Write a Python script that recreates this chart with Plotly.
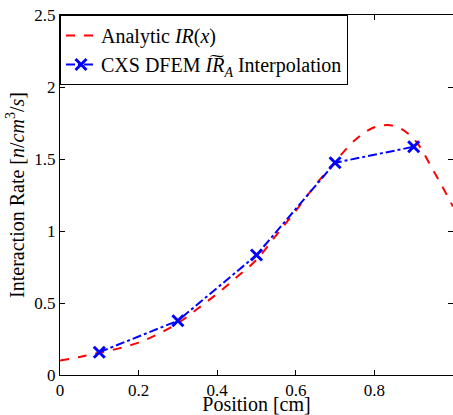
import plotly.graph_objects as go

# Analytic curve IR(x)
x_analytic = [0, 0.05, 0.1, 0.15, 0.2, 0.25, 0.3, 0.35, 0.4, 0.45, 0.5,
              0.55, 0.6, 0.65, 0.7, 0.75, 0.8, 0.85, 0.9, 0.95, 1.0]
y_analytic = [0.10, 0.125, 0.155, 0.185, 0.225, 0.285, 0.36, 0.46, 0.565, 0.68, 0.80,
              0.97, 1.14, 1.32, 1.48, 1.63, 1.72, 1.73, 1.64, 1.42, 1.17]

# CXS DFEM interpolation points
x_dfem = [0.1, 0.3, 0.5, 0.7, 0.9]
y_dfem = [0.158, 0.377, 0.833, 1.474, 1.585]

x_ticks = [0, 0.2, 0.4, 0.6, 0.8, 1]
y_ticks = [0, 0.5, 1, 1.5, 2, 2.5]

FONT = "Liberation Serif"
FS_TICK = 17
FS_LABEL = 20

fig = go.Figure()
fig.add_trace(go.Scatter(
    x=x_analytic, y=y_analytic, mode="lines",
    line=dict(color="#ff0000", width=2, dash="dash", shape="spline"),
    name="Analytic <i>IR</i>(<i>x</i>)",
))
fig.add_trace(go.Scatter(
    x=x_dfem, y=y_dfem, mode="lines+markers",
    line=dict(color="#0000ff", width=2, dash="dashdot"),
    marker=dict(symbol="x-thin", size=11, color="#0000ff",
                line=dict(color="#0000ff", width=3)),
    name="CXS DFEM <i>I\u0360R<sub>A</sub></i> Interpolation",
))

axis_common = dict(
    showgrid=False, zeroline=False, showline=True, linecolor="black",
    linewidth=1, mirror="ticks", ticks="inside", ticklen=5,
    tickcolor="black", tickfont=dict(family=FONT, size=FS_TICK, color="black"),
    automargin=False,
)

fig.update_layout(
    width=453, height=415,
    margin=dict(l=60, r=0, t=15, b=40),
    paper_bgcolor="white", plot_bgcolor="white",
    font=dict(family=FONT, size=FS_LABEL, color="black"),
    showlegend=True,
    legend=dict(x=0, y=1, xanchor="left", yanchor="top",
                bordercolor="black", borderwidth=1, bgcolor="white",
                font=dict(family=FONT, size=FS_LABEL, color="black"),
                tracegroupgap=0, itemwidth=30),
    xaxis=dict(range=[0, 1], tickvals=x_ticks,
               ticktext=[f"{v:g}" for v in x_ticks],
               title=dict(text="Position [cm]", standoff=3,
                          font=dict(family=FONT, size=FS_LABEL)),
               **axis_common),
    yaxis=dict(range=[0, 2.5], tickvals=y_ticks,
               ticktext=[f"{v:g}" for v in y_ticks],
               title=dict(text="Interaction Rate [<i>n</i>/<i>cm</i><sup>3</sup>/<i>s</i>]",
                          standoff=4, font=dict(family=FONT, size=FS_LABEL)),
               **axis_common),
)

fig.write_html("out.html")
